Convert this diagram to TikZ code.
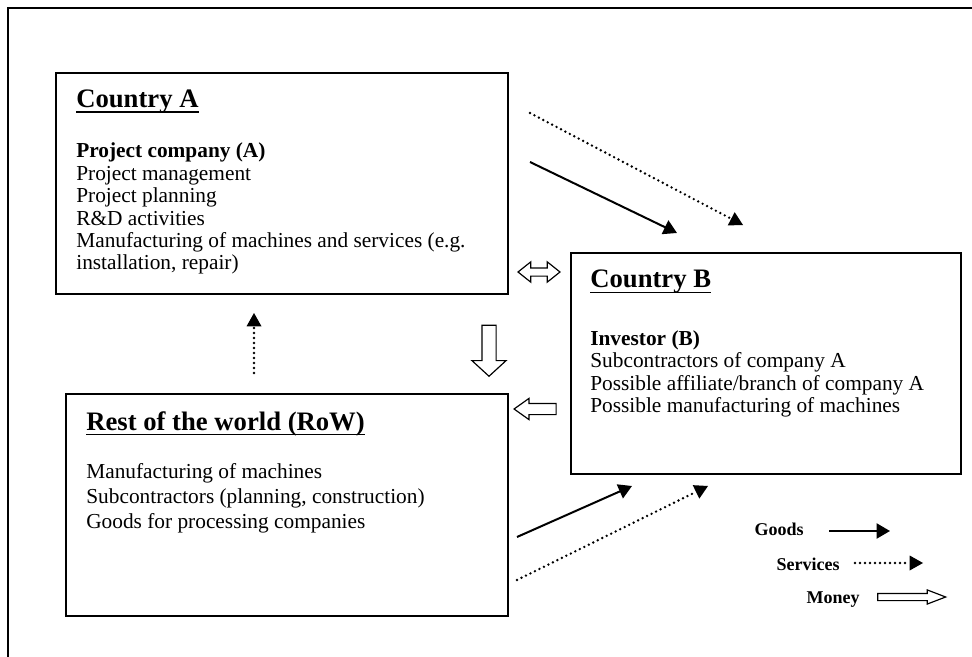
\documentclass[tikz,border=0pt]{standalone}
\usepackage{fontspec}
\setmainfont{Liberation Serif}
\usetikzlibrary{arrows.meta,shapes.arrows}

\newcommand{\headfont}{\fontsize{16}{19}\selectfont\bfseries}
\newcommand{\entryfont}{\fontsize{12.8}{14}\selectfont}
\newcommand{\keyfont}{\fontsize{10.8}{13}\selectfont\bfseries}

\tikzset{
  region/.style={draw, line width=1pt, inner sep=0pt, anchor=north west},
  heading/.style={font=\headfont, anchor=base west, inner sep=0pt},
  entry/.style={font=\entryfont, anchor=base west, inner sep=0pt},
  keylabel/.style={font=\keyfont, anchor=base east, inner sep=0pt},
  goods/.style={line width=1.2pt, -{Triangle[length=8pt,width=9pt]}},
  services/.style={line width=1.6pt, line cap=round, dash pattern=on 0pt off 3pt,
    -{Triangle[length=8pt,width=9pt,line width=0pt]}},
  money/.style={draw, line width=0.7pt, single arrow},
}

\begin{document}
\begin{tikzpicture}[x=0.6pt, y=-0.6pt]
  \useasboundingbox (0,0) rectangle (972,657);
  \draw[line width=0.8pt] (8,657) |- (972,8);

  % the three regions
  \node[region, minimum width=271.2pt, minimum height=132.6pt] (A) at (55,72) {};
  \node[region, minimum width=234pt, minimum height=132.6pt] (B) at (570,252) {};
  \node[region, minimum width=265.2pt, minimum height=133.2pt] (R) at (65,393) {};

  \node[heading] (tA) at (76,108) {Country A};
  \draw[line width=1pt] ([yshift=-2.6pt]tA.base west) -- ([yshift=-2.6pt]tA.base east);
  \node[entry, font=\entryfont\bfseries] (a0) at (76,158) {Project company (A)};
  \node[entry] (a1) at (76,180.4) {Project management};
  \node[entry] (a2) at (76,202.8) {Project planning};
  \node[entry] (a3) at (76,225.2) {R\&D activities};
  \node[entry] (a4) at (76,247.6) {Manufacturing of machines and services (e.g.};
  \node[entry] (a5) at (76,270) {installation, repair)};

  \node[heading] (tB) at (590,288) {Country B};
  \draw[line width=1pt] ([yshift=-2.6pt]tB.base west) -- ([yshift=-2.6pt]tB.base east);
  \node[entry, font=\entryfont\bfseries] (b0) at (590,345) {Investor (B)};
  \node[entry] (b1) at (590,367.5) {Subcontractors of company A};
  \node[entry] (b2) at (590,390) {Possible affiliate/branch of company A};
  \node[entry] (b3) at (590,412.5) {Possible manufacturing of machines};

  \node[heading] (tR) at (86,430) {Rest of the world (RoW)};
  \draw[line width=1pt] ([yshift=-2.6pt]tR.base west) -- ([yshift=-2.6pt]tR.base east);
  \node[entry] (r1) at (86,478) {Manufacturing of machines};
  \node[entry] (r2) at (86,503) {Subcontractors (planning, construction)};
  \node[entry] (r3) at (86,528) {Goods for processing companies};

  % money flows
  \node[money, double arrow, inner sep=2.1pt, minimum height=25.2pt,
    double arrow head extend=3.6pt, double arrow tip angle=77] (mAB) at (539,272) {};
  \node[money, shape border rotate=270, inner sep=3.9pt, minimum height=30.6pt,
    single arrow head extend=6pt, single arrow tip angle=95] (mAR) at (489,347.5) {};
  \node[money, shape border rotate=180, inner sep=3pt, minimum height=25.2pt,
    single arrow head extend=3pt, single arrow tip angle=71] (mBR) at (539,409) {};

  % goods and services flows
  \coordinate (gA) at (530,162);
  \coordinate (gB) at (677,233);
  \coordinate (sA) at (530,113);
  \coordinate (sB) at (743,225);
  \coordinate (gR) at (517,537);
  \coordinate (gB2) at (632,486);
  \coordinate (sR) at (517,580);
  \coordinate (sB2) at (708,486);
  \coordinate (sR2) at (254,373);
  \coordinate (sA2) at (254,313);
  \draw[goods] (gA) -- (gB);
  \draw[services] (sA) -- (sB);
  \draw[goods] (gR) -- (gB2);
  \draw[services] (sR) -- (sB2);
  \draw[services] (sR2) -- (sA2);

  % legend
  \node[keylabel] (kg) at (804,535) {Goods};
  \node[keylabel] (ks) at (840,570) {Services};
  \node[keylabel] (km) at (860,603) {Money};
  \coordinate (kg1) at (829,531);
  \coordinate (kg2) at (890,531);
  \coordinate (ks1) at (855,563);
  \coordinate (ks2) at (923,563);
  \draw[goods] (kg1) -- (kg2);
  \draw[services] (ks1) -- (ks2);
  \node[money, inner sep=1.8pt, minimum height=40.8pt,
    single arrow head extend=2.1pt, single arrow tip angle=42] (mk) at (907,597) {};
\end{tikzpicture}
\end{document}
